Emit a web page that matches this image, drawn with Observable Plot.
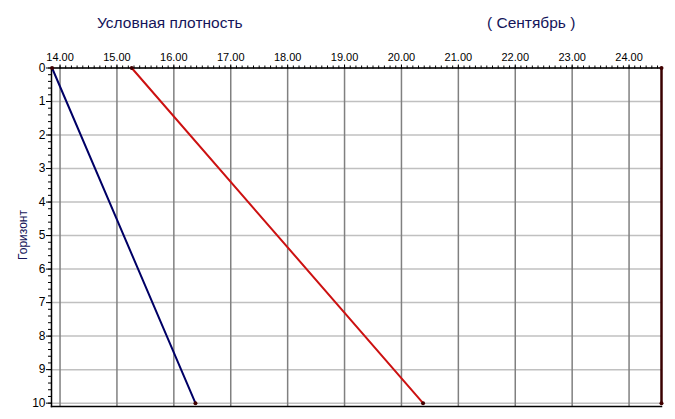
<!DOCTYPE html>
<html>
<head>
<meta charset="utf-8">
<script src="https://cdn.jsdelivr.net/npm/d3@7"></script>
<script src="https://cdn.jsdelivr.net/npm/@observablehq/plot@0.6"></script>
<style>
  body { margin: 0; background: #fff; }
  #chart svg { display: block; }
</style>
</head>
<body>
<div id="chart"></div>
<script>
// Data
const horizons = [0, 10];
const seriesBlue = [13.86, 16.38];
const seriesRed = [15.26, 20.38];
const seriesEdge = [24.57, 24.57];
const xMajorTicks = [14, 15, 16, 17, 18, 19, 20, 21, 22, 23, 24];
const yMajorTicks = [0, 1, 2, 3, 4, 5, 6, 7, 8, 9, 10];
const titleLeft = "Условная плотность";
const titleRight = "( Сентябрь )";
const yLabel = "Горизонт";

const rows = (xs, name) => xs.map((x, i) => ({x, y: horizons[i], s: name}));
const blue = rows(seriesBlue, "blue");
const red = rows(seriesRed, "red");
const edge = rows(seriesEdge, "edge");

const xMinor = d3.range(140, 246).map(v => v / 10).filter(v => v <= 24.57);
const yMinor = d3.range(0, 51).map(v => v / 5);

const font = "'Liberation Sans', Arial, sans-serif";

const chart = Plot.plot({
  width: 675,
  height: 419,
  marginLeft: 51,
  marginRight: 14,
  marginTop: 67.5,
  marginBottom: 13,
  style: {fontFamily: font, fontSize: "11px", color: "#000", background: "#fff"},
  x: {domain: [13.85, 24.57], axis: null, label: null},
  y: {domain: [0, 10.1], reverse: true, axis: null, label: null},
  marks: [
    Plot.gridY(yMajorTicks, {stroke: "#c0c0c0", strokeOpacity: 1, strokeWidth: 1.5}),
    Plot.gridX(xMajorTicks, {stroke: "#808080", strokeOpacity: 1, strokeWidth: 1.5}),
    Plot.axisX(xMinor, {anchor: "top", tickSize: 3, text: null, stroke: "#000", label: null}),
    Plot.axisX(xMajorTicks, {anchor: "top", tickSize: 4, tickPadding: 3, tickFormat: d3.format(".2f"), stroke: "#000", fill: "#000", label: null}),
    Plot.axisY(yMinor, {anchor: "left", tickSize: 3, text: null, stroke: "#000", label: null}),
    Plot.axisY(yMajorTicks, {anchor: "left", tickSize: 5, tickPadding: 1, stroke: "#000", fill: "#000", label: null, fontSize: 12}),
    Plot.ruleY([0], {stroke: "#000", strokeWidth: 1.5}),
    Plot.frame({anchor: "left", stroke: "#000", strokeWidth: 1.5}),
    Plot.frame({anchor: "bottom", stroke: "#000", strokeWidth: 1.5}),
    Plot.line(blue, {x: "x", y: "y", stroke: "#000066", strokeWidth: 2}),
    Plot.line(red, {x: "x", y: "y", stroke: "#cc1111", strokeWidth: 2}),
    Plot.line(edge, {x: "x", y: "y", stroke: "#3a0000", strokeWidth: 2.5}),
    Plot.dot([...blue, ...red, ...edge], {x: "x", y: "y", r: 2, fill: "#400000", stroke: "none"})
  ]
});

const svg = d3.select(chart);
svg.append("text")
  .attr("x", 97).attr("y", 28).attr("text-anchor", "start")
  .attr("font-family", font).attr("font-size", 15.5).attr("fill", "#14145a")
  .text(titleLeft);
svg.append("text")
  .attr("x", 487).attr("y", 28).attr("text-anchor", "start")
  .attr("font-family", font).attr("font-size", 15.5).attr("fill", "#14145a")
  .text(titleRight);
svg.append("text")
  .attr("transform", "translate(27,235) rotate(-90)")
  .attr("text-anchor", "middle")
  .attr("font-family", font).attr("font-size", 12).attr("fill", "#14145a")
  .text(yLabel);

document.getElementById("chart").appendChild(chart);
</script>
</body>
</html>
